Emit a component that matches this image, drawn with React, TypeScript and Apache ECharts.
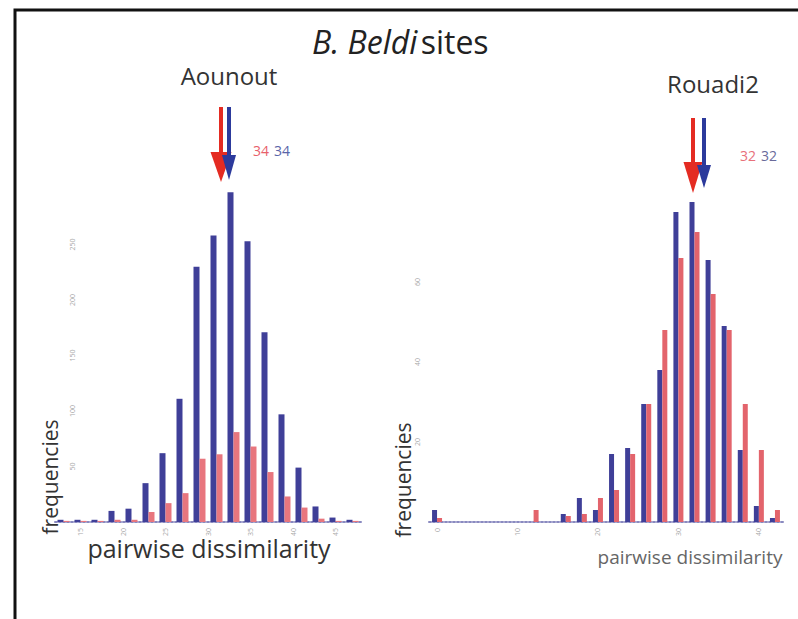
import React, { useEffect, useRef } from "react";
import * as echarts from "echarts";

// ---- data ----
const leftBins = [13, 15, 17, 19, 21, 23, 25, 27, 29, 31, 33, 35, 37, 39, 41, 43, 45, 47];
const leftBlue = [2, 2, 2, 10, 12, 35, 62, 111, 230, 258, 297, 253, 171, 97, 49, 14, 4, 2];
const leftRed = [1, 1, 1, 2, 2, 9, 17, 26, 57, 61, 81, 68, 45, 23, 13, 3, 1, 1];
const leftXTicks = [15, 20, 25, 30, 35, 40, 45];
const leftYTicks = [50, 100, 150, 200, 250];

const rightBins = [0, 2, 4, 6, 8, 10, 12, 14, 16, 18, 20, 22, 24, 26, 28, 30, 32, 34, 36, 38, 40, 42];
const rightBlue = [3, 0, 0, 0, 0, 0, 0, 0, 2, 6, 3, 17, 18.5, 29.5, 38, 77.5, 80, 65.5, 49, 18, 4, 1];
const rightRed = [1, 0, 0, 0, 0, 0, 3, 0, 1.5, 2, 6, 8, 17, 29.5, 48, 66, 72.5, 57, 48, 29.5, 18, 3];
const rightXTicks = [0, 10, 20, 30, 40];
const rightYTicks = [20, 40, 60];

const panelTitles = ["Aounout", "Rouadi2"];
const meanLabels = ["34", "32"];

const BLUE = "#3f3f98";
const RED_L = "#e8767e";
const RED_R = "#e3646c";
const FONT = "'Open Sans', 'Noto Sans', sans-serif";

export default function App() {
  const ref = useRef<HTMLDivElement>(null);
  useEffect(() => {
    if (!ref.current) return;
    const chart = echarts.init(ref.current, null, { renderer: "svg" });
    const pair = (xs: number[], ys: number[]) => xs.map((x, i) => [x, ys[i]]);
    const xAxisBase = (min: number, max: number, ticks: number[], gi: number) => ({
      type: "value",
      gridIndex: gi,
      min,
      max,
      splitLine: { show: false },
      axisTick: { show: false },
      axisLine: { show: true, lineStyle: { color: "#8a8ac0", type: "dotted", width: 2 } },
      axisLabel: {
        customValues: ticks,
        rotate: 90,
        fontSize: 7,
        color: "#aaa",
        margin: 6,
        fontFamily: FONT,
      },
    });
    const yAxisBase = (max: number, ticks: number[], gi: number, inside: boolean, margin: number) => ({
      type: "value",
      gridIndex: gi,
      min: 0,
      max,
      splitLine: { show: false },
      axisTick: { show: false },
      axisLine: { show: false },
      axisLabel: {
        customValues: ticks,
        inside,
        rotate: 90,
        fontSize: 7,
        color: "#aaa",
        margin,
        fontFamily: FONT,
      },
    });

    const arrow = (x: number, y0: number, y1: number, headW: number, tip: number, color: string) => [
      { type: "line", shape: { x1: x, y1: y0, x2: x, y2: y1 + 4 }, style: { stroke: color, lineWidth: 4 } },
      {
        type: "polygon",
        shape: { points: [[x - headW / 2, y1], [x + headW / 2, y1], [x, tip]] },
        style: { fill: color },
      },
    ];

    chart.setOption({
      animation: false,
      backgroundColor: "#fff",
      grid: [
        { left: 55, width: 306, top: 189, height: 333 },
        { left: 429, width: 354, top: 202, height: 320 },
      ],
      xAxis: [xAxisBase(12, 48, leftXTicks, 0), xAxisBase(-1, 43, rightXTicks, 1)],
      yAxis: [yAxisBase(300, leftYTicks, 0, true, 14), yAxisBase(80, rightYTicks, 1, false, 8)],
      series: [
        {
          type: "bar", name: "blue-left", xAxisIndex: 0, yAxisIndex: 0,
          data: pair(leftBins, leftBlue), barWidth: 6, barGap: "0%",
          itemStyle: { color: BLUE },
        },
        {
          type: "bar", name: "red-left", xAxisIndex: 0, yAxisIndex: 0,
          data: pair(leftBins, leftRed), barWidth: 6, barGap: "0%",
          itemStyle: { color: RED_L },
        },
        {
          type: "bar", name: "blue-right", xAxisIndex: 1, yAxisIndex: 1,
          data: pair(rightBins, rightBlue), barWidth: 5, barGap: "0%",
          itemStyle: { color: BLUE },
        },
        {
          type: "bar", name: "red-right", xAxisIndex: 1, yAxisIndex: 1,
          data: pair(rightBins, rightRed), barWidth: 5, barGap: "0%",
          itemStyle: { color: RED_R },
        },
      ],
      graphic: [
        {
          type: "rect",
          shape: { x: 15, y: 10, width: 800, height: 700 },
          style: { fill: "none", stroke: "#111", lineWidth: 3 },
        },
        {
          type: "text",
          x: 312,
          y: 41,
          style: {
            text: "{i|B. Beldi} {n|sites}",
            verticalAlign: "middle",
            rich: {
              i: { fontStyle: "italic", fontSize: 32, fontFamily: FONT, fill: "#222" },
              n: { fontSize: 32, fontFamily: FONT, fill: "#222" },
            },
          },
        },
        {
          type: "text", x: 229, y: 75,
          style: { text: panelTitles[0], fontSize: 24, fontFamily: FONT, fill: "#333", align: "center", verticalAlign: "middle" },
        },
        {
          type: "text", x: 713, y: 83,
          style: { text: panelTitles[1], fontSize: 24, fontFamily: FONT, fill: "#333", align: "center", verticalAlign: "middle" },
        },
        ...arrow(221, 107, 152, 21, 182, "#e42b22"),
        ...arrow(229, 107, 155, 14, 180, "#2c3a9c"),
        ...arrow(693, 118, 162, 19, 193, "#e42b22"),
        ...arrow(704, 118, 165, 14, 188, "#2c3a9c"),
        {
          type: "text", x: 253, y: 150,
          style: { text: meanLabels[0], fontSize: 14, fontFamily: FONT, fill: "#e8606a", verticalAlign: "middle" },
        },
        {
          type: "text", x: 274, y: 150,
          style: { text: meanLabels[0], fontSize: 14, fontFamily: FONT, fill: "#5a64a8", verticalAlign: "middle" },
        },
        {
          type: "text", x: 740, y: 155,
          style: { text: meanLabels[1], fontSize: 14, fontFamily: FONT, fill: "#e8707a", verticalAlign: "middle" },
        },
        {
          type: "text", x: 761, y: 155,
          style: { text: meanLabels[1], fontSize: 14, fontFamily: FONT, fill: "#6a6a9a", verticalAlign: "middle" },
        },
        {
          type: "text", x: 50, y: 477, rotation: Math.PI / 2,
          style: { text: "frequencies", fontSize: 21, fontFamily: FONT, fill: "#333", align: "center", verticalAlign: "middle" },
        },
        {
          type: "text", x: 403, y: 480, rotation: Math.PI / 2,
          style: { text: "frequencies", fontSize: 21, fontFamily: FONT, fill: "#333", align: "center", verticalAlign: "middle" },
        },
        {
          type: "text", x: 209, y: 548,
          style: { text: "pairwise dissimilarity", fontSize: 25, fontFamily: FONT, fill: "#333", align: "center", verticalAlign: "middle" },
        },
        {
          type: "text", x: 690, y: 557,
          style: { text: "pairwise dissimilarity", fontSize: 19, fontFamily: FONT, fill: "#666", align: "center", verticalAlign: "middle" },
        },
      ],
    });
    return () => chart.dispose();
  }, []);
  return (
    <div
      ref={ref}
      style={{ position: "fixed", left: 0, top: 0, width: 798, height: 619 }}
    />
  );
}
